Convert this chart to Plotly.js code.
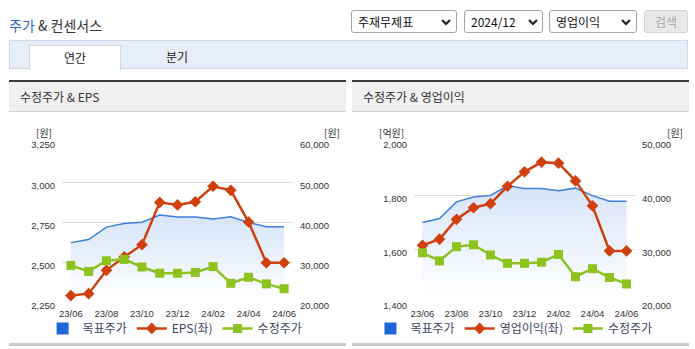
<!DOCTYPE html>
<html><head><meta charset="utf-8">
<script src="https://cdn.plot.ly/plotly-3.0.1.min.js"></script>
<style>
body{margin:0;width:695px;height:349px;overflow:hidden;background:#fff;font-family:"Noto Sans CJK KR","Noto Sans",sans-serif;position:relative}
.abs{position:absolute}
.sel{position:absolute;top:10px;height:21px;border:1px solid #a6a6a6;border-radius:3px;background:#fff;font-size:12px;color:#111;line-height:21px}
.sel span{position:absolute;left:6px;top:0}
.sel svg{position:absolute;top:8px}
.btn{position:absolute;left:644px;top:10px;width:42px;height:21px;border:1px solid #d2d2d2;border-radius:3px;background:#e8e8e8;color:#a8a8a8;font-size:12px;line-height:21px;text-align:center}
.tabbar{position:absolute;left:9px;top:40px;width:677px;height:27px;border:1px solid #cfd8e6;background:#e8eef8}
.tab{position:absolute;left:29px;top:45px;width:90px;height:24px;border:1px solid #cfd8e6;border-bottom:none;background:#fff;font-size:12px;color:#222;text-align:center;line-height:23px}
.tab2{position:absolute;left:147px;top:45px;width:60px;height:24px;font-size:12px;color:#222;text-align:center;line-height:23px}
.ptop{position:absolute;top:80px;height:2px;background:#3a3a3a}
.ptitle{position:absolute;top:82px;height:29px;background:#f0f0f0;border-bottom:1px solid #d4d4d4;font-size:12px;color:#333;line-height:30px;box-sizing:content-box}
.ptitle span{position:absolute;left:11px}
.pbot{position:absolute;top:343px;height:3px;background:#c9c9c9}
.chart{position:absolute;top:113px;height:228px}
</style></head>
<body>
<div class="abs" style="left:9px;top:15px;font-size:14px;color:#333;line-height:20px"><span style="color:#2b62c9">주가</span> &amp; 컨센서스</div>

<div class="sel" style="left:351px;width:104px"><span>주재무제표</span><svg width="10" height="7" style="left:89px"><polyline points="1,1 5,5 9,1" fill="none" stroke="#222" stroke-width="2.2"/></svg></div>
<div class="sel" style="left:464px;width:77px"><span>2024/12</span><svg width="10" height="7" style="left:63px"><polyline points="1,1 5,5 9,1" fill="none" stroke="#222" stroke-width="2.2"/></svg></div>
<div class="sel" style="left:549px;width:86px"><span>영업이익</span><svg width="10" height="7" style="left:71px"><polyline points="1,1 5,5 9,1" fill="none" stroke="#222" stroke-width="2.2"/></svg></div>
<div class="btn">검색</div>

<div class="tabbar"></div>
<div class="tab">연간</div>
<div class="tab2">분기</div>

<div class="ptop" style="left:9px;width:337px"></div>
<div class="ptitle" style="left:9px;width:337px"><span>수정주가 &amp; EPS</span></div>
<div class="pbot" style="left:9px;width:337px"></div>

<div class="ptop" style="left:352px;width:337px"></div>
<div class="ptitle" style="left:352px;width:337px"><span>수정주가 &amp; 영업이익</span></div>
<div class="pbot" style="left:352px;width:337px"></div>

<div id="c1" class="chart" style="left:9px;width:337px"></div>
<div id="c2" class="chart" style="left:330px;width:359px"></div>

<script>
const months = ['23/06','23/07','23/08','23/09','23/10','23/11','23/12','24/01','24/02','24/03','24/04','24/05','24/06'];
const tickLabels = ['23/06','23/08','23/10','23/12','24/02','24/04','24/06'];
const targetPrice = [35000, 35750, 38850, 39750, 40050, 41850, 41350, 41350, 40900, 41400, 40000, 38950, 38950];
const adjPrice = [29350, 27850, 30500, 30850, 28950, 27400, 27400, 27600, 29050, 24900, 26400, 24750, 23550];
const eps = [2296, 2308, 2453, 2536, 2612, 2875, 2859, 2879, 2975, 2950, 2753, 2500, 2500];
const opProfit = [1615, 1638, 1712, 1755, 1770, 1835, 1889, 1925, 1921, 1855, 1762, 1594, 1594];

const NARROW = '"Liberation Sans Narrow","Liberation Sans",Arial,sans-serif';
const AXC = '#c5d0e2';

function draw(id, cfg) {
  const n = months.length;
  const bounds = [-0.5];
  for (let v = 0.5; v <= n - 0.5; v += 2) bounds.push(v);
  const red = '#d0400e', green = '#8dc21f';
  const traces = [
    {x: months, y: targetPrice, yaxis: 'y2', type: 'scatter', mode: 'lines',
     line: {color: '#3f7fdc', width: 1.5}, fill: 'tozeroy',
     fillgradient: {type: 'vertical', start: cfg.rRange[0] + 1000, stop: 42000,
       colorscale: [[0, 'rgb(255,255,255)'], [1, 'rgb(214,228,248)']]},
     showlegend: false, zorder: 0, hoverinfo: 'skip'},
    {x: [null], y: [null], yaxis: 'y2', type: 'scatter', mode: 'markers', name: '목표주가',
     marker: {symbol: 'square', size: 12, color: '#1f66db'}},
    {x: months, y: cfg.left, yaxis: 'y', type: 'scatter', mode: 'lines+markers', name: cfg.leftName,
     line: {color: red, width: 2.5}, marker: {symbol: 'diamond', size: 9, color: red}, zorder: 1},
    {x: months, y: adjPrice, yaxis: 'y2', type: 'scatter', mode: 'lines+markers', name: '수정주가',
     line: {color: green, width: 2.5}, marker: {symbol: 'square', size: 9, color: green}, zorder: 2}
  ];
  const tf = {family: NARROW, size: 9.5, color: '#333'};
  const layout = {
    width: cfg.w, height: 228,
    margin: {l: cfg.ml, r: cfg.mr, t: 29, b: 38, pad: 0, autoexpand: false},
    paper_bgcolor: 'rgba(0,0,0,0)', plot_bgcolor: 'rgba(0,0,0,0)',
    font: {family: '"Noto Sans CJK KR","Noto Sans",sans-serif', color: '#333'},
    showlegend: true,
    legend: {orientation: 'h', x: cfg.legX, xanchor: 'left', y: -0.158, yanchor: 'middle',
      font: {size: 12, color: '#3d4660'}, bgcolor: 'rgba(0,0,0,0)', traceorder: 'normal'},
    xaxis: {type: 'category', range: [-0.5, n - 0.5], tickvals: tickLabels, ticks: '',
      showline: true, linecolor: AXC, linewidth: 1, showgrid: false, zeroline: false,
      tickfont: tf, ticklabelstandoff: 2, fixedrange: true},
    xaxis2: {overlaying: 'x', anchor: 'y', range: [-0.5, n - 0.5], tickvals: bounds,
      ticks: 'outside', ticklen: 5, tickcolor: AXC, showticklabels: false,
      showgrid: false, showline: false, zeroline: false, fixedrange: true},
    yaxis: {range: cfg.lRange, dtick: cfg.lDtick, tick0: cfg.lRange[0], tickformat: ',d',
      showgrid: true, gridcolor: '#dddddd', gridwidth: 1, zeroline: false, showline: false,
      ticks: '', tickfont: tf, ticklabelstandoff: 6, ticklabelshift: 3, fixedrange: true},
    yaxis2: {overlaying: 'y', side: 'right', range: cfg.rRange, dtick: 10000, tick0: cfg.rRange[0],
      tickformat: ',d', showgrid: false, zeroline: false, showline: false, ticks: '',
      tickfont: tf, ticklabelstandoff: 6, ticklabelshift: 3, fixedrange: true},
    annotations: [
      {text: cfg.lUnit, xref: 'paper', yref: 'paper', x: 0, y: 1, xanchor: 'right', yanchor: 'middle',
       xshift: -8, yshift: 10, showarrow: false, font: {size: 10, color: '#333'}},
      {text: '[원]', xref: 'paper', yref: 'paper', x: 1, y: 1, xanchor: 'right', yanchor: 'middle',
       xshift: cfg.rUnitShift, yshift: 10, showarrow: false, font: {size: 10, color: '#333'}}
    ]
  };
  Plotly.newPlot(id, traces, layout, {staticPlot: true, displayModeBar: false});
}

draw('c1', {left: eps, leftName: 'EPS(좌)', lRange: [2250, 3250], lDtick: 250,
  rRange: [20000, 60000], lUnit: '[원]', rUnitShift: 49, w: 337, ml: 53, mr: 53, legX: -0.084});
draw('c2', {left: opProfit, leftName: '영업이익(좌)', lRange: [1400, 2000], lDtick: 200,
  rRange: [20000, 50000], lUnit: '[억원]', rUnitShift: 50, w: 359, ml: 84, mr: 54, legX: -0.197});
</script>
</body></html>
